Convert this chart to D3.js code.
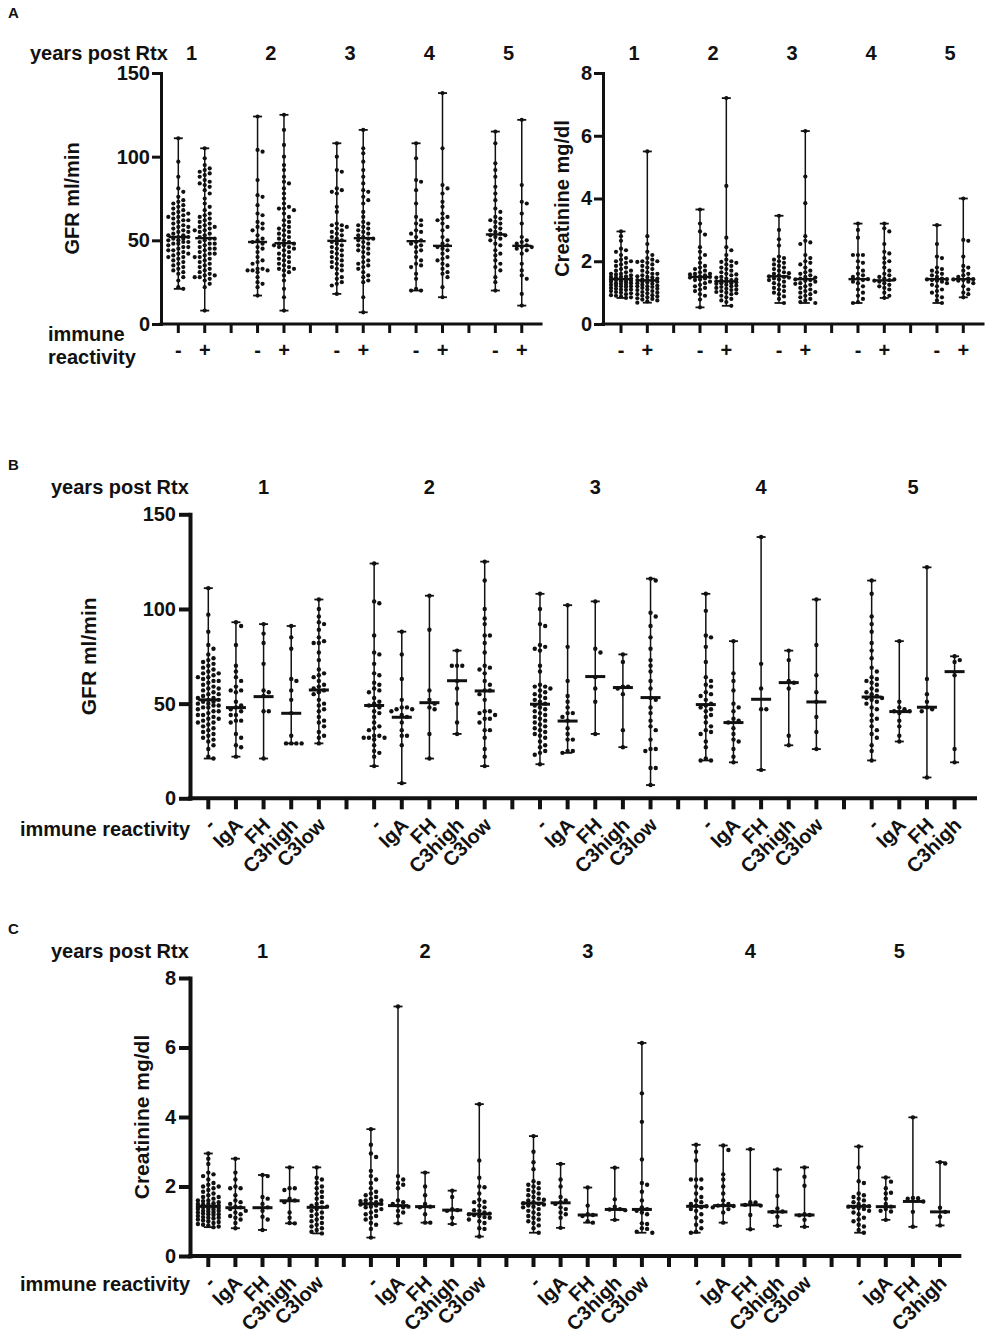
<!DOCTYPE html>
<html><head><meta charset="utf-8">
<script src="https://cdn.jsdelivr.net/npm/d3@7"></script>
<style>
body{margin:0;background:#fff;}
svg text{font-family:"Liberation Sans",Arial,Helvetica,sans-serif;font-weight:bold;fill:#111;}
</style></head><body>
<svg id="chart" width="988" height="1339"></svg>
<script>
// ---------------- DATA ----------------
const years = ["1","2","3","4","5"];
const pairLabels = ["-","+"];
const subgroupLabels = ["-","IgA","FH","C3high","C3low"];
const gfrTicks = [0,50,100,150];
const creatTicks = [0,2,4,6,8];

// GFR, no immune reactivity (per year)
const gfrNeg = [
 [111,97,88,81,79,76,74,73,72,71,70,69,68,67,66,66,65,64,64,63,62,62,61,60,59,58,58,57,56,55,55,54,53,53,52,52,51,51,50,50,49,49,48,48,47,46,46,45,44,44,43,42,42,41,40,40,39,38,37,36,35,34,33,32,31,30,28,26,22,21],
 [124,104,103,86,77,76,71,66,65,61,60,58,57,56,53,51,50,49,48,46,45,43,40,38,37,36,33,33,32,32,32,31,28,25,24,22,17],
 [108,100,92,91,81,80,79,78,70,67,60,59,59,58,57,56,55,54,53,52,51,50,49,48,47,46,45,44,43,42,41,40,39,38,37,36,35,34,33,32,30,28,27,25,24,23,18],
 [108,99,86,85,80,72,64,62,60,59,56,55,54,52,50,49,48,47,46,44,43,40,38,36,35,34,30,27,21,20,20],
 [115,108,96,92,88,82,78,74,69,67,64,63,62,61,60,58,57,56,55,54,53,53,52,51,50,48,47,44,42,41,38,36,34,32,28,25,20]
];
const gfrNegMedian = [52,49,49.7,49.5,53.5];
// GFR, immune reactivity positive
const gfrPos = [
 [105,99,95,93,92,91,90,89,88,86,85,84,83,82,80,78,75,72,70,68,66,65,64,63,62,61,60,59,58,58,57,56,56,55,54,53,52,51,51,50,49,48,48,47,46,45,45,44,43,42,42,41,40,40,39,38,37,36,35,34,33,32,31,30,29,29,28,28,27,26,24,22,8],
 [125,116,107,100,95,92,88,85,84,81,78,75,72,70,69,69,68,66,64,62,61,59,58,57,56,55,54,53,52,51,50,49,48,48,47,47,46,46,45,44,43,42,41,40,39,38,37,36,35,34,33,33,32,31,29,26,21,16,8],
 [116,105,102,97,92,88,84,80,79,76,74,72,67,64,61,60,59,58,57,56,55,54,53,52,51,51,50,49,48,47,46,45,44,43,42,40,38,37,36,35,34,33,31,29,28,26,25,16,7],
 [138,105,83,81,78,73,70,66,64,63,62,60,58,56,52,50,48,47,46,45,44,42,40,39,38,36,35,33,31,30,28,22,16],
 [122,83,73,72,66,60,52,50,49,48,47,46,46,45,44,42,36,32,29,27,18,11]
];
const gfrPosMedian = [51.3,48.3,51.3,46.7,46.7];
// Creatinine, no immune reactivity
const creatNeg = [
 [2.95,2.8,2.65,2.4,2.35,2.3,2.2,2.1,2.05,2.0,2.0,1.95,1.9,1.85,1.8,1.75,1.7,1.7,1.65,1.6,1.6,1.58,1.55,1.52,1.5,1.5,1.48,1.45,1.45,1.43,1.42,1.4,1.4,1.38,1.36,1.35,1.33,1.3,1.3,1.28,1.25,1.25,1.22,1.2,1.2,1.18,1.15,1.12,1.1,1.1,1.08,1.05,1.02,1.0,0.98,0.95,0.92,0.9,0.88,0.85,0.83],
 [3.65,3.2,2.95,2.85,2.45,2.3,2.2,2.1,1.95,1.85,1.8,1.75,1.7,1.65,1.6,1.6,1.58,1.55,1.52,1.5,1.5,1.48,1.45,1.42,1.4,1.35,1.3,1.25,1.2,1.15,1.1,1.05,0.95,0.9,0.78,0.53],
 [3.45,3.0,2.7,2.5,2.15,2.1,2.05,2.0,1.95,1.9,1.85,1.8,1.75,1.7,1.65,1.62,1.6,1.55,1.52,1.5,1.48,1.45,1.42,1.4,1.35,1.3,1.25,1.2,1.15,1.1,1.05,1.0,0.95,0.88,0.8,0.67],
 [3.2,3.0,2.75,2.2,2.2,2.2,2.0,1.95,1.8,1.7,1.6,1.55,1.5,1.45,1.43,1.4,1.35,1.3,1.2,1.1,1.0,0.9,0.8,0.7,0.67],
 [3.15,2.55,2.15,2.1,1.8,1.75,1.7,1.65,1.6,1.55,1.5,1.45,1.43,1.42,1.4,1.38,1.35,1.3,1.25,1.2,1.1,1.05,1.0,0.9,0.85,0.75,0.67]
];
const creatNegMedian = [1.43,1.5,1.52,1.43,1.43];
// Creatinine, immune reactivity positive
const creatPos = [
 [5.5,2.8,2.55,2.3,2.2,2.1,2.05,2.0,2.0,1.98,1.95,1.9,1.85,1.8,1.75,1.7,1.65,1.6,1.6,1.55,1.52,1.5,1.48,1.45,1.42,1.4,1.4,1.38,1.35,1.35,1.32,1.3,1.28,1.25,1.22,1.2,1.2,1.18,1.15,1.12,1.1,1.08,1.05,1.02,1.0,0.98,0.95,0.92,0.9,0.88,0.85,0.82,0.8,0.78,0.75,0.72,0.68],
 [7.2,4.4,2.75,2.45,2.35,2.2,2.05,2.0,1.98,1.95,1.9,1.85,1.8,1.75,1.7,1.65,1.6,1.58,1.55,1.5,1.48,1.45,1.42,1.4,1.38,1.36,1.35,1.33,1.3,1.3,1.28,1.25,1.22,1.2,1.18,1.15,1.12,1.1,1.08,1.05,1.02,1.0,0.98,0.95,0.9,0.85,0.8,0.75,0.7,0.58],
 [6.15,4.7,3.85,2.8,2.65,2.6,2.55,2.2,2.1,2.0,1.95,1.9,1.8,1.7,1.65,1.6,1.55,1.5,1.48,1.45,1.42,1.4,1.38,1.35,1.3,1.28,1.25,1.2,1.15,1.1,1.05,1.02,1.0,0.95,0.9,0.85,0.8,0.75,0.7,0.67],
 [3.2,3.05,2.95,2.55,2.3,2.25,2.1,2.0,1.95,1.8,1.7,1.6,1.55,1.5,1.45,1.42,1.4,1.38,1.35,1.3,1.25,1.2,1.15,1.1,1.0,0.9,0.83],
 [4.0,2.68,2.65,2.15,1.85,1.8,1.7,1.6,1.55,1.5,1.45,1.43,1.42,1.4,1.38,1.35,1.3,1.2,1.1,1.0,0.95,0.85]
];
const creatPosMedian = [1.39,1.36,1.43,1.39,1.43];

// GFR by reactivity type
const gfrIgA = [
 [93,91,81,70,67,64,62,59,57,57,56,51,49,48,47,46,44,44,41,41,40,34,32,28,27,22],
 [88,76,63,52,48,48,47,47,46,44,43,40,36,33,33,28,8],
 [102,80,62,54,51,48,45,45,43,41,37,34,31,31,25,25,24],
 [83,66,62,57,50,48,46,42,41,40,37,34,31,30,26,22,19],
 [83,51,48,47,46,46,45,41,38,33,30]
];
const gfrIgAMedian = [47.9,42.8,40.8,40,45.8];
const gfrFH = [
 [92,87,82,71,57,56,54,46,46,21],
 [107,89,57,52,50,48,47,34,21],
 [104,79,77,64,58,51,34],
 [138,71,58,47,47,15],
 [122,63,55,51,48,47,46,11]
];
const gfrFHMedian = [53.7,50.5,64.3,52.3,48.1];
const gfrC3high = [
 [91,85,79,63,62,57,52,45,33,29,29,29,29],
 [78,70,70,70,62,58,50,40,34],
 [76,72,59,59,58,55,36,27],
 [78,73,62,61,58,33,28],
 [75,73,72,65,26,19]
];
const gfrC3highMedian = [44.9,62.1,58.5,61.1,66.9];
const gfrC3low = [
 [105,100,96,93,92,89,85,83,82,82,77,73,68,66,65,64,62,60,59,58,57,56,55,52,50,49,47,46,43,41,40,38,35,33,32,29],
 [125,115,100,95,92,86,86,82,77,70,69,68,66,62,60,57,57,55,52,46,46,45,44,42,42,40,36,36,32,26,22,17],
 [116,115,98,96,91,85,79,73,70,67,62,58,53,52,48,45,41,38,36,31,26,26,25,16,16,7],
 [105,81,65,56,51,43,35,26]
];
const gfrC3lowMedian = [57.2,56.7,53.2,50.9];

// Creatinine by reactivity type
const creatIgA = [
 [2.8,2.4,2.2,2.0,1.95,1.95,1.75,1.6,1.55,1.5,1.42,1.4,1.35,1.3,1.25,1.2,1.15,1.1,1.05,0.95,0.8],
 [7.18,2.3,2.2,2.1,2.05,1.95,1.6,1.55,1.5,1.45,1.42,1.4,1.3,1.25,1.15,0.94],
 [2.65,2.2,2.0,1.7,1.6,1.55,1.5,1.4,1.35,1.25,1.2,1.1,0.81],
 [3.18,3.05,2.35,2.2,2.0,1.8,1.6,1.5,1.46,1.45,1.44,1.4,1.35,1.25,0.96],
 [2.26,2.14,1.95,1.82,1.8,1.65,1.5,1.42,1.35,1.3,1.28,1.04]
];
const creatIgAMedian = [1.39,1.45,1.53,1.45,1.42];
const creatFH = [
 [2.33,2.3,1.7,1.65,1.5,1.4,1.3,1.13,1.05,0.75],
 [2.4,2.0,1.75,1.5,1.42,1.4,1.2,0.96,0.96],
 [1.97,1.45,1.2,1.18,1.15,1.0,0.96],
 [3.07,1.55,1.54,1.47,1.45,1.18,0.77],
 [3.99,1.67,1.66,1.65,1.57,1.27,0.84]
];
const creatFHMedian = [1.39,1.42,1.18,1.47,1.57];
const creatC3high = [
 [2.55,1.95,1.95,1.9,1.65,1.6,1.55,1.25,1.1,0.95,0.94],
 [1.88,1.7,1.35,1.32,1.3,1.1,0.92],
 [2.54,1.63,1.42,1.35,1.34,1.32,1.04],
 [2.49,1.73,1.37,1.28,1.27,1.13,0.87],
 [2.7,2.66,1.39,1.27,1.13,0.88]
];
const creatC3highMedian = [1.59,1.32,1.34,1.27,1.27];
const creatC3low = [
 [2.55,2.25,2.2,2.1,2.0,1.95,1.85,1.8,1.7,1.65,1.55,1.5,1.45,1.42,1.4,1.35,1.3,1.25,1.2,1.15,1.1,1.05,1.0,0.95,0.9,0.85,0.8,0.75,0.7,0.65],
 [4.37,2.75,2.25,2.0,1.98,1.8,1.62,1.56,1.55,1.45,1.4,1.32,1.3,1.25,1.22,1.2,1.18,1.15,1.12,1.1,1.05,1.0,0.95,0.8,0.78,0.56],
 [6.13,4.68,3.86,2.78,2.1,2.05,1.85,1.6,1.4,1.35,1.3,1.25,1.2,0.94,0.92,0.8,0.78,0.7,0.67],
 [2.55,2.28,2.02,1.2,1.18,1.17,1.04,0.84]
];
const creatC3lowMedian = [1.40,1.21,1.34,1.18];

// ---------------- BUILD SLOTS ----------------
function pairSlots(neg, negMed, pos, posMed){
  const s = [];
  years.forEach((yr,i)=>{
    s.push({year:i,label:pairLabels[0],values:neg[i],median:negMed[i]});
    s.push({year:i,label:pairLabels[1],values:pos[i],median:posMed[i]});
    if(i<years.length-1) s.push(null);
  });
  return s;
}
function typeSlots(neg,negMed,series,meds){
  const s = [];
  years.forEach((yr,i)=>{
    s.push({year:i,label:subgroupLabels[0],values:neg[i],median:negMed[i]});
    series.forEach((ser,k)=>{
      if(ser[i]) s.push({year:i,label:subgroupLabels[k+1],values:ser[i],median:meds[k][i]});
    });
    if(i<years.length-1) s.push(null);
  });
  return s;
}

const svg = d3.select("#chart");
const INK = "#111";

// horizontal dodge of points sharing similar values (limited width, overlap allowed when crowded)
function swarm(vals, y, cx, r, step, maxOff){
  const pts = vals.map(v=>({v, y:y(v)})).sort((a,b)=>a.y-b.y);
  const placed = [];
  const minD = 2*r + 0.2;
  const kMax = 2*Math.floor(maxOff/step);
  pts.forEach(p=>{
    let best=null, bestD=-1;
    for(let k=0;k<=kMax;k++){
      const off = k===0?0:(k%2?1:-1)*Math.ceil(k/2)*step;
      const px = cx+off;
      let dmin = Infinity;
      for(const q of placed){ const d=Math.hypot(q.x-px,q.y-p.y); if(d<dmin) dmin=d; }
      if(dmin>=minD){best=px;bestD=dmin;break;}
      if(dmin>bestD){bestD=dmin;best=px;}
    }
    p.x=best; placed.push(p);
  });
  return placed;
}

function drawPanel(cfg){
  const g = svg.append("g");
  const y = d3.scaleLinear().domain(cfg.yDomain).range([cfg.y0, cfg.yTop]);
  const n = cfg.slots.length;
  const x = d3.scaleLinear().domain([0,n-1]).range([cfg.slot0, cfg.slot0+cfg.step*(n-1)]);

  // y axis
  const ya = d3.axisLeft(y).tickValues(cfg.yTicks).tickSize(cfg.tick).tickSizeOuter(0).tickPadding(cfg.tickPad).tickFormat(d3.format("d"));
  const yg = g.append("g").attr("transform",`translate(${cfg.axisX},0)`).call(ya);
  yg.select(".domain").attr("stroke",INK).attr("stroke-width",cfg.axisW).attr("stroke-linecap","square");
  yg.selectAll(".tick line").attr("stroke",INK).attr("stroke-width",cfg.axisW);
  yg.selectAll(".tick text").attr("font-size",20).attr("font-family",null).attr("fill",INK);
  yg.attr("font-family",null).attr("font-size",null);

  // x axis
  g.append("line").attr("x1",cfg.axisX).attr("x2",cfg.xEnd).attr("y1",cfg.y0).attr("y2",cfg.y0)
    .attr("stroke",INK).attr("stroke-width",cfg.axisW).attr("stroke-linecap","square");
  g.selectAll(".xt").data(d3.range(n)).join("line").attr("class","xt")
    .attr("x1",i=>x(i)).attr("x2",i=>x(i)).attr("y1",cfg.y0).attr("y2",cfg.y0+cfg.tick)
    .attr("stroke",INK).attr("stroke-width",cfg.axisW);

  // x labels
  cfg.slots.forEach((s,i)=>{
    if(!s) return;
    if(cfg.rotate){
      g.append("text").attr("transform",`translate(${x(i)+cfg.labDx},${cfg.y0+cfg.labDy}) rotate(-45)`)
        .attr("text-anchor","end").attr("font-size",20).text(s.label);
    } else {
      g.append("text").attr("x",x(i)).attr("y",cfg.labY).attr("text-anchor","middle").attr("font-size",20).text(s.label);
    }
  });

  // year labels
  years.forEach((yr,yi)=>{
    const idx = cfg.slots.map((s,i)=>s&&s.year===yi?i:-1).filter(i=>i>=0);
    const cx = d3.mean(idx.map(i=>x(i)));
    g.append("text").attr("x",cx).attr("y",cfg.yearY).attr("text-anchor","middle").attr("font-size",20).text(yr);
  });

  // y axis title
  g.append("text").attr("transform",`translate(${cfg.titleX},${(cfg.y0+cfg.yTop)/2}) rotate(-90)`)
    .attr("text-anchor","middle").attr("dy","0.35em").attr("font-size",cfg.titleSize).text(cfg.title);

  // groups
  cfg.slots.forEach((s,i)=>{
    if(!s) return;
    const cx = x(i);
    const [lo,hi] = d3.extent(s.values);
    const gg = g.append("g");
    gg.append("line").attr("x1",cx).attr("x2",cx).attr("y1",y(hi)).attr("y2",y(lo)).attr("stroke",INK).attr("stroke-width",1.5);
    [lo,hi].forEach(v=>gg.append("line").attr("x1",cx-cfg.capW/2).attr("x2",cx+cfg.capW/2).attr("y1",y(v)).attr("y2",y(v)).attr("stroke",INK).attr("stroke-width",1.8));
    gg.append("line").attr("x1",cx-cfg.medW/2).attr("x2",cx+cfg.medW/2).attr("y1",y(s.median)).attr("y2",y(s.median)).attr("stroke",INK).attr("stroke-width",cfg.medSW);
    const pts = swarm(s.values, y, cx, cfg.r, cfg.r*2+0.8, cfg.maxOff);
    gg.selectAll("circle").data(pts).join("circle").attr("cx",d=>d.x).attr("cy",d=>d.y).attr("r",cfg.r).attr("fill",INK);
  });
}

// ---------------- PANELS ----------------
const slotsA1 = pairSlots(gfrNeg,gfrNegMedian,gfrPos,gfrPosMedian);
const slotsA2 = pairSlots(creatNeg,creatNegMedian,creatPos,creatPosMedian);
const slotsB = typeSlots(gfrNeg,gfrNegMedian,[gfrIgA,gfrFH,gfrC3high,gfrC3low],[gfrIgAMedian,gfrFHMedian,gfrC3highMedian,gfrC3lowMedian]);
const slotsC = typeSlots(creatNeg,creatNegMedian,[creatIgA,creatFH,creatC3high,creatC3low],[creatIgAMedian,creatFHMedian,creatC3highMedian,creatC3lowMedian]);

const baseA = {y0:324,yTop:73,tick:9,tickPad:2,axisW:3,capW:9,medW:19,medSW:2.4,r:2.1,maxOff:11,rotate:false,labY:357,yearY:60,titleSize:20};
drawPanel(Object.assign({},baseA,{slots:slotsA1,yDomain:[0,150],yTicks:gfrTicks,axisX:161,xEnd:541,slot0:178.3,step:26.42,title:"GFR ml/min",titleX:72}));
drawPanel(Object.assign({},baseA,{slots:slotsA2,yDomain:[0,8],yTicks:creatTicks,axisX:603,xEnd:983,slot0:621,step:26.33,title:"Creatinine mg/dl",titleX:562}));

const baseBC = {tick:11,tickPad:3,axisW:4,capW:9,medW:20,medSW:3,r:2.2,maxOff:12,rotate:true,labDx:8,labDy:28,axisX:190,slot0:208.3,titleSize:21};
drawPanel(Object.assign({},baseBC,{slots:slotsB,yDomain:[0,150],yTicks:gfrTicks,y0:798.3,yTop:514.3,xEnd:975,step:27.64,title:"GFR ml/min",titleX:89,yearY:494}));
drawPanel(Object.assign({},baseBC,{slots:slotsC,yDomain:[0,8],yTicks:creatTicks,y0:1256,yTop:978,xEnd:959.3,step:27.1,title:"Creatinine mg/dl",titleX:142,yearY:958}));

// ---------------- LABELS ----------------
function label(t,x,y,size,anchor){svg.append("text").attr("x",x).attr("y",y).attr("font-size",size).attr("text-anchor",anchor||"start").text(t);}
label("A",8,18,15); label("B",8,470,15); label("C",8,934,15);
label("years post Rtx",30,60,20);
label("immune",48,341,20); label("reactivity",48,364,20);
label("years post Rtx",51,494,20);
label("immune reactivity",20,836,20);
label("years post Rtx",51,958,20);
label("immune reactivity",20,1291,20);
</script></body></html>
